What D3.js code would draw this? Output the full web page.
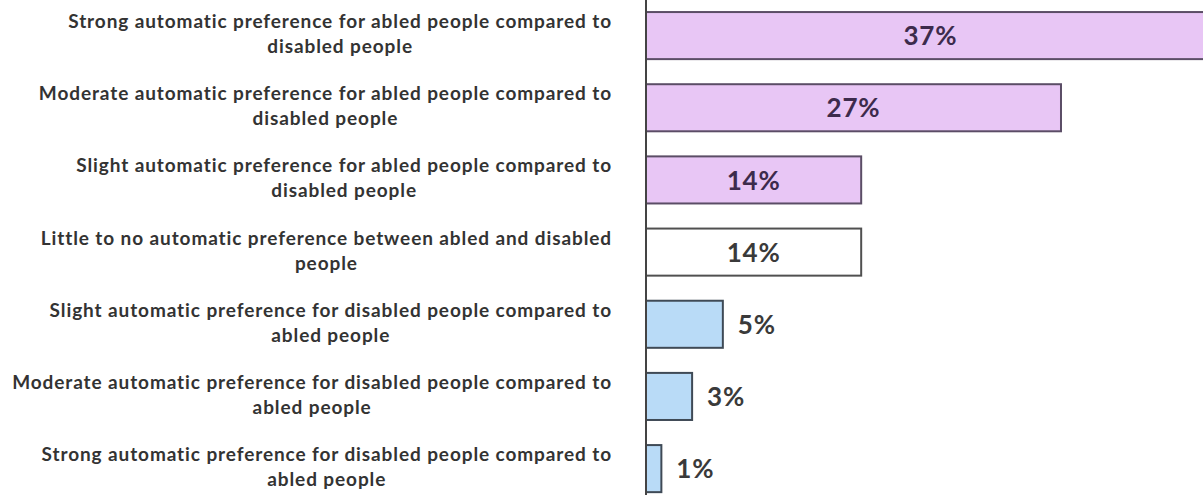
<!DOCTYPE html>
<html>
<head>
<meta charset="utf-8">
<script src="https://cdn.jsdelivr.net/npm/d3@7"></script>
<style>
  html, body { margin: 0; padding: 0; background: #fff; }
  svg { display: block; }
</style>
</head>
<body>
<svg id="chart" width="1203" height="495"></svg>
<script>
// Category labels, each split into its display lines
const categories = [
  ["Strong automatic preference for abled people compared to", "disabled people"],
  ["Moderate automatic preference for abled people compared to", "disabled people"],
  ["Slight automatic preference for abled people compared to", "disabled people"],
  ["Little to no automatic preference between abled and disabled", "people"],
  ["Slight automatic preference for disabled people compared to", "abled people"],
  ["Moderate automatic preference for disabled people compared to", "abled people"],
  ["Strong automatic preference for disabled people compared to", "abled people"]
];
const values = [37, 27, 14, 14, 5, 3, 1];
const groups = ["abled", "abled", "abled", "neutral", "disabled", "disabled", "disabled"];
const valueLabels = ["37%", "27%", "14%", "14%", "5%", "3%", "1%"];

const W = 1203, H = 495;
const axisX = 646;
const pxPerUnit = 15.37;

const svg = d3.select("#chart");

const x = d3.scaleLinear().domain([0, 1]).range([axisX, axisX + pxPerUnit]);
const y = d3.scaleBand()
  .domain(d3.range(categories.length))
  .range([-0.5, 504.7])
  .paddingInner(0.32)
  .paddingOuter(0.16);

const fills = { abled: "#e8c6f5", neutral: "#ffffff", disabled: "#b9dbf7" };
const strokes = { abled: "#5b4d66", neutral: "#505050", disabled: "#3f4a56" };
const labelColors = { abled: "#3d2b4c", neutral: "#3a3a3a", disabled: "#3a3a3a" };

// bars
svg.append("g").selectAll("rect")
  .data(values)
  .join("rect")
  .attr("x", x(0))
  .attr("y", (d, i) => y(i) + 1)
  .attr("width", d => x(d) - x(0))
  .attr("height", y.bandwidth() - 2)
  .attr("fill", (d, i) => fills[groups[i]])
  .attr("stroke", (d, i) => strokes[groups[i]])
  .attr("stroke-width", 2);

// vertical category axis line
svg.append("line")
  .attr("x1", axisX).attr("x2", axisX)
  .attr("y1", 0).attr("y2", H)
  .attr("stroke", "#444")
  .attr("stroke-width", 2);

// value labels: inside wide bars, right of narrow ones
svg.append("g").selectAll("text")
  .data(values)
  .join("text")
  .attr("x", (d, i) => groups[i] === "disabled" ? x(d) + 15 : (x(0) + x(d)) / 2)
  .attr("y", (d, i) => y(i) + y.bandwidth() / 2 + 3)
  .attr("text-anchor", (d, i) => groups[i] === "disabled" ? "start" : "middle")
  .attr("dominant-baseline", "middle")
  .attr("font-family", "Lato, 'Open Sans', sans-serif")
  .attr("font-weight", "bold")
  .attr("font-size", 26)
  .attr("letter-spacing", 0.8)
  .attr("fill", (d, i) => labelColors[groups[i]])
  .text((d, i) => valueLabels[i]);

// category labels: lines centred within a block right-aligned to the axis
const labelRight = 612;
const lineGap = 25;
const catG = svg.append("g")
  .attr("font-family", "Lato, 'Open Sans', sans-serif")
  .attr("font-weight", "bold")
  .attr("font-size", 19)
  .attr("letter-spacing", 0.9)
  .attr("fill", "#333");

categories.forEach((lines, i) => {
  const t = catG.append("text")
    .attr("text-anchor", "middle")
    .attr("dominant-baseline", "middle");
  const cy = y(i) + y.bandwidth() / 2;
  const spans = lines.map((ln, j) => t.append("tspan")
    .attr("y", cy + (j - (lines.length - 1) / 2) * lineGap)
    .text(ln));
  const maxW = d3.max(spans, s => s.node().getComputedTextLength());
  spans.forEach(s => s.attr("x", labelRight - maxW / 2));
});
</script>
</body>
</html>
